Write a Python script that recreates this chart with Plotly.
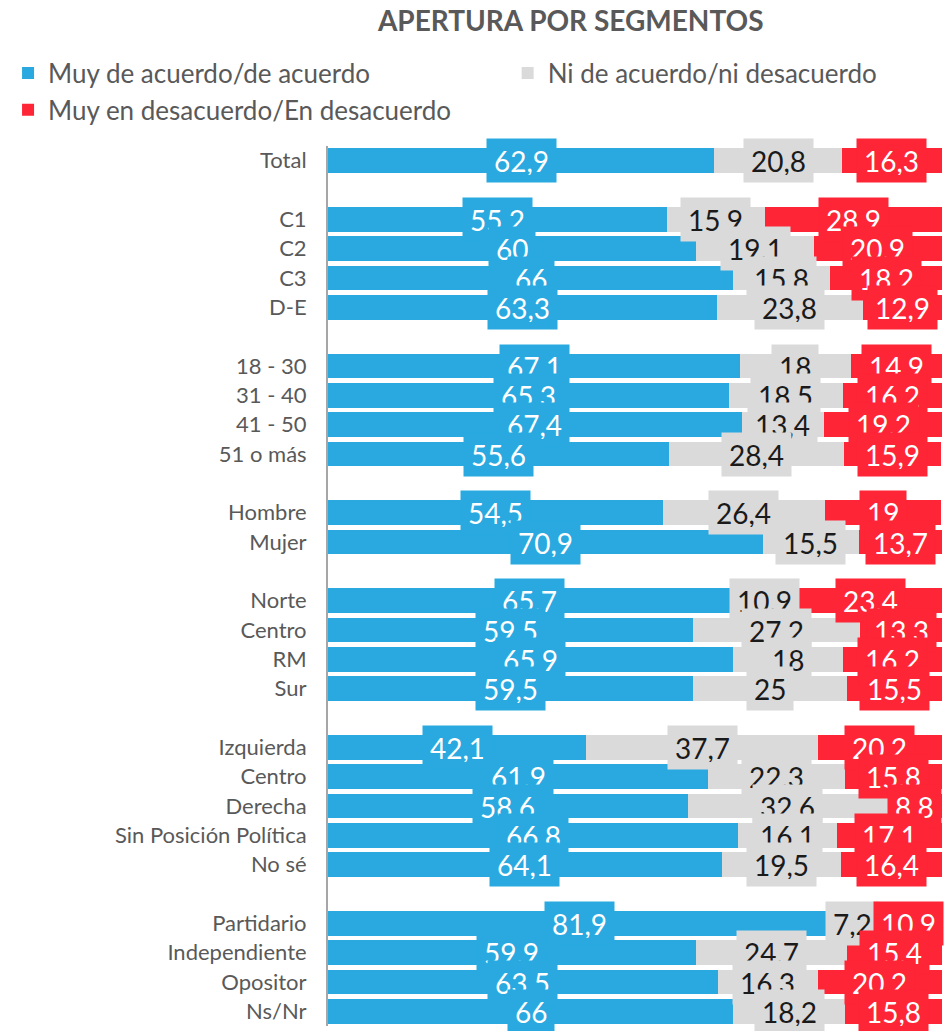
import plotly.graph_objects as go

# segment labels, top to bottom, and the size of each block of rows
segments = [
    "Total",
    "C1", "C2", "C3", "D-E",
    "18 - 30", "31 - 40", "41 - 50", "51 o más",
    "Hombre", "Mujer",
    "Norte", "Centro", "RM", "Sur",
    "Izquierda", "Centro", "Derecha", "Sin Posición Política", "No sé",
    "Partidario", "Independiente", "Opositor", "Ns/Nr",
]
group_sizes = [1, 4, 4, 2, 4, 5, 4]

acuerdo = [62.9, 55.2, 60, 66, 63.3, 67.1, 65.3, 67.4, 55.6, 54.5, 70.9,
           65.7, 59.5, 65.9, 59.5, 42.1, 61.9, 58.6, 66.8, 64.1, 81.9, 59.9, 63.5, 66]
neutral = [20.8, 15.9, 19.1, 15.8, 23.8, 18, 18.5, 13.4, 28.4, 26.4, 15.5,
           10.9, 27.2, 18, 25, 37.7, 22.3, 32.6, 16.1, 19.5, 7.2, 24.7, 16.3, 18.2]
desacuerdo = [16.3, 28.9, 20.9, 18.2, 12.9, 14.9, 16.2, 19.2, 15.9, 19, 13.7,
              23.4, 13.3, 16.2, 15.5, 20.2, 15.8, 8.8, 17.1, 16.4, 10.9, 15.4, 20.2, 15.8]

series_names = ["Muy de acuerdo/de acuerdo", "Ni de acuerdo/ni desacuerdo",
                "Muy en desacuerdo/En desacuerdo"]
series = [acuerdo, neutral, desacuerdo]
colors = ["#29A9E0", "#DADADA", "#FE2537"]
label_colors = ["#FFFFFF", "#1A1A1A", "#FFFFFF"]
legends = ["legend", "legend2", "legend"]

FONT = "Lato"
GREY_TXT = "#595959"

# one empty slot between blocks
ypos = []
slot = 0
for size in group_sizes:
    for _ in range(size):
        ypos.append(slot)
        slot += 1
    slot += 1
last = ypos[-1]


def fmt(v):
    return f"{v:g}".replace(".", ",")


fig = go.Figure()

for name, vals, col, leg in zip(series_names, series, colors, legends):
    fig.add_trace(go.Bar(
        x=vals, y=ypos, orientation="h", name=name,
        marker=dict(color=col, line=dict(width=0)),
        legend=leg, legendgroup=name, hoverinfo="skip",
    ))

# data labels with filled boxes, drawn series by series, top row first
base = [0.0] * len(segments)
for vals, tcol, bg in zip(series, label_colors, colors):
    for i, v in enumerate(vals):
        fig.add_annotation(
            x=base[i] + v / 2, y=ypos[i], text=fmt(v), showarrow=False,
            font=dict(family=FONT, size=28, color=tcol),
            bgcolor=bg, borderpad=7, height=29,
        )
        base[i] += v

legend_style = dict(
    xref="container", yref="container", xanchor="left", yanchor="top",
    font=dict(family=FONT, size=26, color=GREY_TXT),
    bgcolor="rgba(0,0,0,0)", tracegroupgap=0,
)

fig.update_layout(
    width=948, height=1031,
    margin=dict(l=328, r=6, t=146, b=5, autoexpand=False),
    barmode="stack", bargap=0.17,
    plot_bgcolor="white", paper_bgcolor="white",
    title=dict(text="<b>APERTURA POR SEGMENTOS</b>", x=0.602, xanchor="center",
               y=0.979, yanchor="middle",
               font=dict(family=FONT, size=28, color=GREY_TXT)),
    xaxis=dict(range=[0, 100], visible=False),
    yaxis=dict(
        tickvals=ypos, ticktext=segments, range=[last + 0.5, -0.5],
        showline=True, linecolor="#A6A6A6", linewidth=2,
        showgrid=False, zeroline=False, ticks="", ticklabelstandoff=15,
        tickfont=dict(family=FONT, size=22, color=GREY_TXT),
    ),
    legend=dict(x=0.0085, y=0.952, **legend_style),
    legend2=dict(x=0.5355, y=0.952, **legend_style),
)

fig.write_html("out.html", config={"displayModeBar": False},
               post_script="document.body.style.margin='0';")
